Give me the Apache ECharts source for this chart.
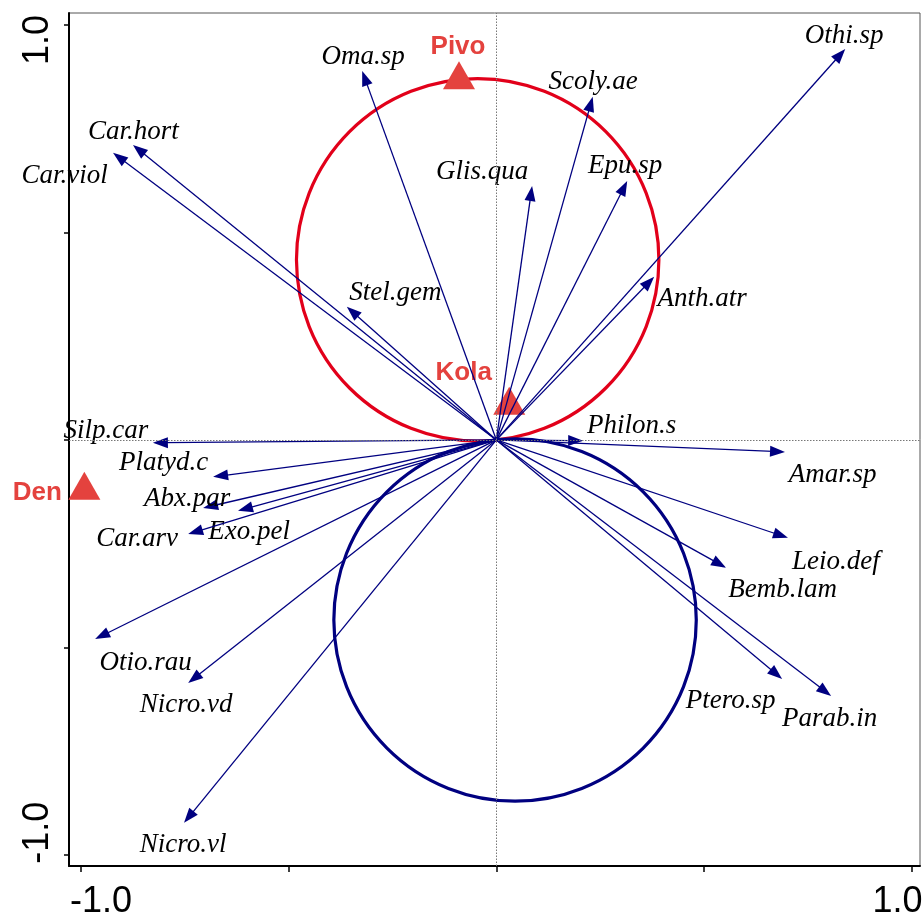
<!DOCTYPE html>
<html><head><meta charset="utf-8">
<script src="https://cdn.jsdelivr.net/npm/echarts@6/dist/echarts.min.js"></script>
<style>html,body{margin:0;padding:0;background:#fff}#c{width:923px;height:915px}</style>
</head><body><div id="c"></div>
<script>
// ---- data ----
const speciesNames = ['Oma.sp','Scoly.ae','Othi.sp','Glis.qua','Epu.sp','Anth.atr','Car.hort','Car.viol','Stel.gem',
  'Silp.car','Platyd.c','Abx.par','Exo.pel','Car.arv','Otio.rau','Nicro.vd','Nicro.vl',
  'Philon.s','Amar.sp','Leio.def','Bemb.lam','Ptero.sp','Parab.in'];
const speciesAxis1 = [-0.323, 0.232, 0.840, 0.086, 0.315, 0.380, -0.875, -0.923, -0.360,
  -0.827, -0.682, -0.706, -0.622, -0.742, -0.966, -0.742, -0.752,
  0.209, 0.695, 0.702, 0.553, 0.688, 0.806];
const speciesAxis2 = [0.889, 0.827, 0.942, 0.612, 0.624, 0.393, 0.711, 0.692, 0.321,
  -0.007, -0.089, -0.164, -0.171, -0.227, -0.480, -0.586, -0.923,
  -0.002, -0.029, -0.236, -0.308, -0.576, -0.617];
const siteNames = ['Pivo','Kola','Den'];
const siteAxis1 = [-0.090, 0.031, -0.992];
const siteAxis2 = [0.868, 0.083, -0.122];
const xTickValues = [-1, -0.5, 0, 0.5, 1];
const yTickValues = [-1, -0.5, 0, 0.5, 1];
const xTickLabels = ['-1.0', '1.0'];
const yTickLabels = ['-1.0', '1.0'];

// ---- layout (pixel offsets of labels from their points) ----
const xLabelPos = [-0.952, 0.966];
const yLabelPos = [-0.947, 0.964];
const LABEL_DY = 3;
const speciesLabelOffset = [[1,-17],[0.5,-17.5],[-1,-16.5],[-50,-17],[-2,-18],[48,19],[0.5,-16],[-48.5,20.5],[48.5,-16.5],
  [-47,-15],[-49.5,-16.5],[-16,-12],[11,18],[-51,2],[50.5,21],[-2,19],[-1,19.5],
  [48.5,-18],[47.5,19.5],[48,21],[56.5,19],[-51.5,19],[-1.5,20]];
const siteLabelOffset = [[-1,-35.5],[-45.5,-35.7],[-47,-0.7]];

const NAVY = '#000080';
const SITE_RED = '#E4423E';
const CIRCLE_RED = '#E2001A';

function nearestLabel(v, pos, labels) {
  let b = 0;
  for (let i = 1; i < pos.length; i++) if (Math.abs(pos[i] - v) < Math.abs(pos[b] - v)) b = i;
  return labels[b];
}

const chart = echarts.init(document.getElementById('c'), null, {renderer: 'canvas'});

const circleData = [
  [siteAxis1[0] / 2, siteAxis2[0] / 2, Math.hypot(siteAxis1[0], siteAxis2[0]) / 2, 0],
  [-siteAxis1[0] / 2, -siteAxis2[0] / 2, Math.hypot(siteAxis1[0], siteAxis2[0]) / 2, 1]
];

const option = {
  animation: false,
  backgroundColor: '#fff',
  grid: {left: 69, right: 3, top: 13, bottom: 49, show: true, borderColor: '#555', borderWidth: 1,
    containLabel: false, outerBoundsMode: 'none'},
  xAxis: {
    type: 'value', min: -1.029, max: 1.020,
    axisLine: {show: true, onZero: false, lineStyle: {color: '#000', width: 2}},
    axisTick: {show: true, inside: false, length: 6, lineStyle: {color: '#000', width: 1.5}, customValues: xTickValues},
    axisLabel: {show: true, customValues: xLabelPos, margin: 18, fontSize: 36, fontFamily: 'Liberation Sans', color: '#000',
      formatter: v => nearestLabel(v, xLabelPos, xTickLabels)},
    splitLine: {show: false}
  },
  yAxis: {
    type: 'value', min: -1.027, max: 1.029,
    axisLine: {show: true, onZero: false, lineStyle: {color: '#000', width: 2}},
    axisTick: {show: true, inside: false, length: 5, lineStyle: {color: '#000', width: 1.5}, customValues: yTickValues},
    axisLabel: {show: true, customValues: yLabelPos, rotate: 90, margin: 13, fontSize: 36, fontFamily: 'Liberation Sans', color: '#000',
      formatter: v => nearestLabel(v, yLabelPos, yTickLabels)},
    splitLine: {show: false}
  },
  series: [
    {
      type: 'line', data: [], silent: true, z: 1,
      markLine: {silent: true, symbol: 'none', label: {show: false}, animation: false,
        lineStyle: {type: [1.5, 1.5], color: '#777', width: 1},
        data: [{xAxis: 0}, {yAxis: 0}]}
    },
    {
      type: 'custom', z: 2, silent: true,
      data: circleData,
      encode: {x: 0, y: 1},
      renderItem: function (params, api) {
        const c = api.coord([api.value(0), api.value(1)]);
        const r = api.size([api.value(2), 0])[0];
        return {type: 'circle', shape: {cx: c[0], cy: c[1], r: r},
          style: {fill: 'none', stroke: api.value(3) === 0 ? CIRCLE_RED : NAVY, lineWidth: 3.2}};
      }
    },
    {
      type: 'custom', z: 3, silent: true,
      data: siteNames.map((n, i) => [siteAxis1[i], siteAxis2[i], i]),
      encode: {x: 0, y: 1},
      renderItem: function (params, api) {
        const i = params.dataIndex;
        const p = api.coord([api.value(0), api.value(1)]);
        const w = 32, h = 28;
        const off = siteLabelOffset[i];
        return {type: 'group', children: [
          {type: 'polygon', shape: {points: [[p[0], p[1] - h * 2 / 3], [p[0] - w / 2, p[1] + h / 3], [p[0] + w / 2, p[1] + h / 3]]},
            style: {fill: SITE_RED}},
          {type: 'text', x: p[0] + off[0], y: p[1] + off[1] + LABEL_DY,
            style: {text: siteNames[i], fill: SITE_RED, fontSize: 26, fontWeight: 'bold', fontFamily: 'Liberation Sans',
              align: 'center', verticalAlign: 'middle'}}
        ]};
      }
    },
    {
      type: 'custom', z: 4, silent: true,
      data: speciesNames.map((n, i) => [speciesAxis1[i], speciesAxis2[i], i]),
      encode: {x: 0, y: 1},
      renderItem: function (params, api) {
        const i = params.dataIndex;
        const o = api.coord([0, 0]);
        const t = api.coord([api.value(0), api.value(1)]);
        const dx = t[0] - o[0], dy = t[1] - o[1];
        const L = Math.hypot(dx, dy) || 1;
        const ux = dx / L, uy = dy / L;
        const hl = 15, hw = 5.5;
        const bx = t[0] - ux * hl, by = t[1] - uy * hl;
        const off = speciesLabelOffset[i];
        return {type: 'group', children: [
          {type: 'line', shape: {x1: o[0], y1: o[1], x2: bx + ux * 3, y2: by + uy * 3}, style: {stroke: NAVY, lineWidth: 1.3}},
          {type: 'polygon', shape: {points: [[t[0], t[1]], [bx - uy * hw, by + ux * hw], [bx + uy * hw, by - ux * hw]]},
            style: {fill: NAVY}},
          {type: 'text', x: t[0] + off[0], y: t[1] + off[1] + LABEL_DY,
            style: {text: speciesNames[i], fill: '#000', fontSize: 27, fontStyle: 'italic', fontFamily: 'Liberation Serif',
              align: 'center', verticalAlign: 'middle'}}
        ]};
      }
    }
  ]
};
chart.setOption(option);
</script>
</body></html>
